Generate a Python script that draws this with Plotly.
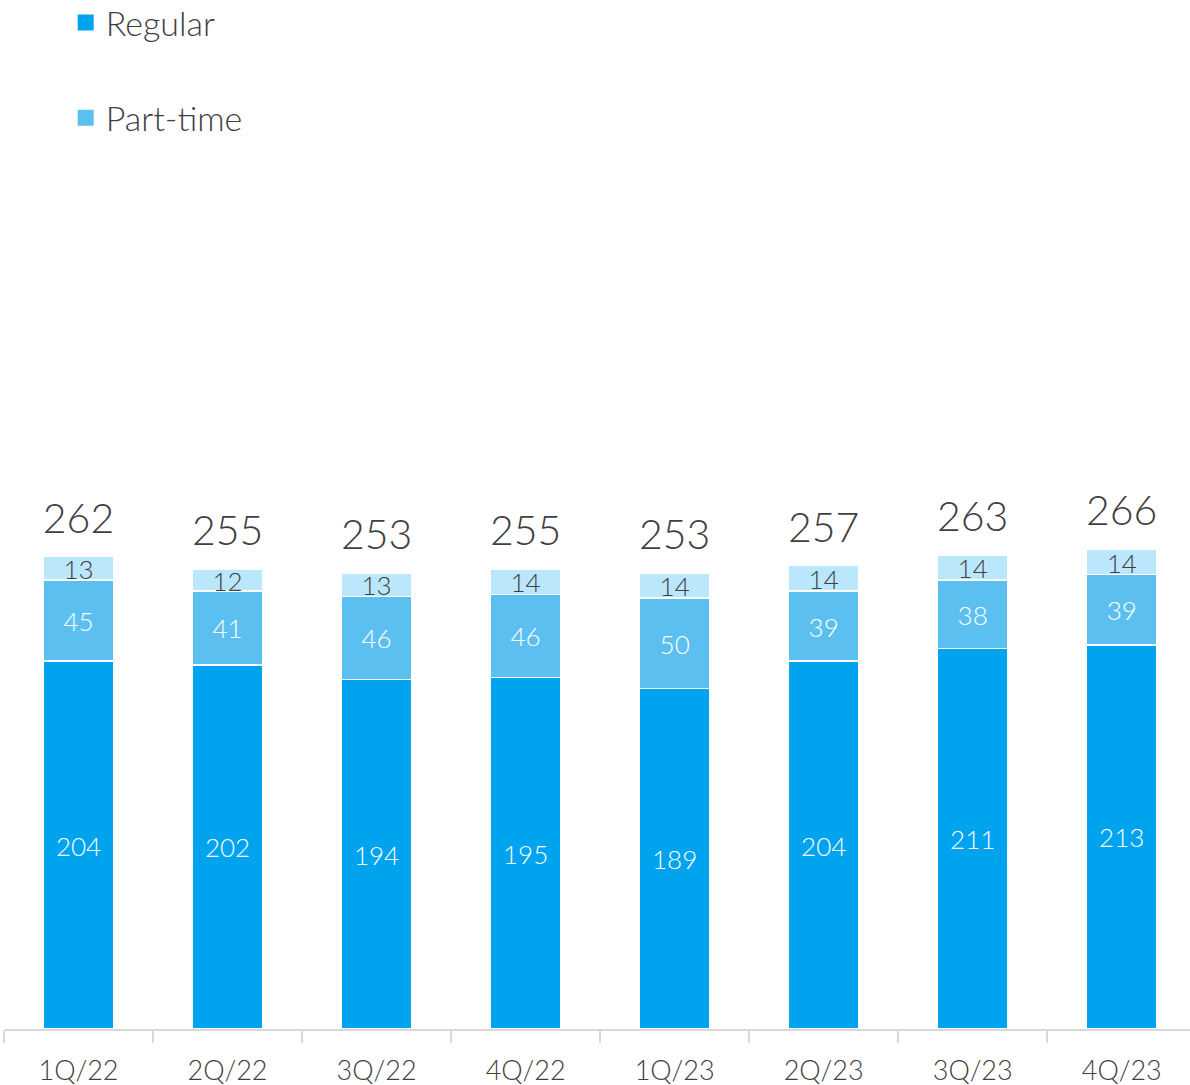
import plotly.graph_objects as go

quarters = ["1Q/22", "2Q/22", "3Q/22", "4Q/22", "1Q/23", "2Q/23", "3Q/23", "4Q/23"]
regular = [204, 202, 194, 195, 189, 204, 211, 213]
part_time = [45, 41, 46, 46, 50, 39, 38, 39]
other = [13, 12, 13, 14, 14, 14, 14, 14]
totals = [262, 255, 253, 255, 253, 257, 263, 266]

C_REG = "#00A3EE"
C_PT = "#5BC0EF"
C_OT = "#BAE7FC"
TXT = "#404040"
FONT = "Lato"

x = quarters
fig = go.Figure()

fig.add_trace(go.Bar(x=x, y=regular, name="Regular", marker=dict(color=C_REG, line=dict(color="white", width=1.5)),
                     showlegend=False, hoverinfo="skip"))
fig.add_trace(go.Bar(x=x, y=part_time, name="Part-time", marker=dict(color=C_PT, line=dict(color="white", width=1.5)),
                     showlegend=False, hoverinfo="skip"))
fig.add_trace(go.Bar(x=x, y=other, name="Other", marker=dict(color=C_OT, line=dict(color="white", width=1.5)),
                     showlegend=False, hoverinfo="skip"))

# legend entries (square swatches)
fig.add_trace(go.Scatter(x=[None], y=[None], mode="markers", name="Regular", legendgroup="a",
                         marker=dict(symbol="square", size=16, color=C_REG, line=dict(width=0))))
fig.add_trace(go.Scatter(x=[None], y=[None], mode="markers", name="Part-time", legendgroup="b",
                         marker=dict(symbol="square", size=16, color=C_PT, line=dict(width=0))))

# segment labels (slight downward nudge for optical centring)
nudge = 2.2
reg_mid = [r / 2 - nudge for r in regular]
pt_mid = [r + p / 2 - nudge for r, p in zip(regular, part_time)]
ot_mid = [r + p + o / 2 - nudge for r, p, o in zip(regular, part_time, other)]
fig.add_trace(go.Scatter(x=x, y=reg_mid, mode="text", text=[str(v) for v in regular],
                         textfont=dict(color="white", size=26, family=FONT, weight=300), showlegend=False, hoverinfo="skip"))
fig.add_trace(go.Scatter(x=x, y=pt_mid, mode="text", text=[str(v) for v in part_time],
                         textfont=dict(color="white", size=26, family=FONT, weight=300), showlegend=False, hoverinfo="skip"))
fig.add_trace(go.Scatter(x=x, y=ot_mid, mode="text", text=[str(v) for v in other],
                         textfont=dict(color=TXT, size=26, family=FONT, weight=300), showlegend=False, hoverinfo="skip"))
tot_pos = [t + 19 for t in totals]
fig.add_trace(go.Scatter(x=x, y=tot_pos, mode="text", text=[str(v) for v in totals],
                         textfont=dict(color=TXT, size=41, family=FONT, weight=300), showlegend=False, hoverinfo="skip"))

fig.update_layout(
    width=1190, height=1085,
    margin=dict(l=4, r=0, t=0, b=56, autoexpand=False),
    barmode="stack", bargap=0.524,
    plot_bgcolor="white", paper_bgcolor="white",
    font=dict(family=FONT, color=TXT, weight=300),
    legend=dict(x=0.052, y=1.006, xanchor="left", yanchor="top", orientation="v",
                font=dict(size=34, color=TXT, family=FONT, weight=300),
                tracegroupgap=48, bgcolor="rgba(0,0,0,0)"),
    xaxis=dict(type="category", range=[-0.5, 7.458],
               showline=True, linecolor="#D9D9D9", linewidth=2,
               ticks="outside", tickson="boundaries", ticklen=12, tickcolor="#D9D9D9", tickwidth=2,
               ticklabelstandoff=17, automargin=False,
               tickfont=dict(size=27, color=TXT, family=FONT, weight=300), showgrid=False, zeroline=False),
    yaxis=dict(range=[0, 570.8], visible=False, showgrid=False, zeroline=False, automargin=False),
)

fig.write_html("out.html", config={"displayModeBar": False},
               post_script="document.body.style.margin='0';document.body.style.overflow='hidden';")
